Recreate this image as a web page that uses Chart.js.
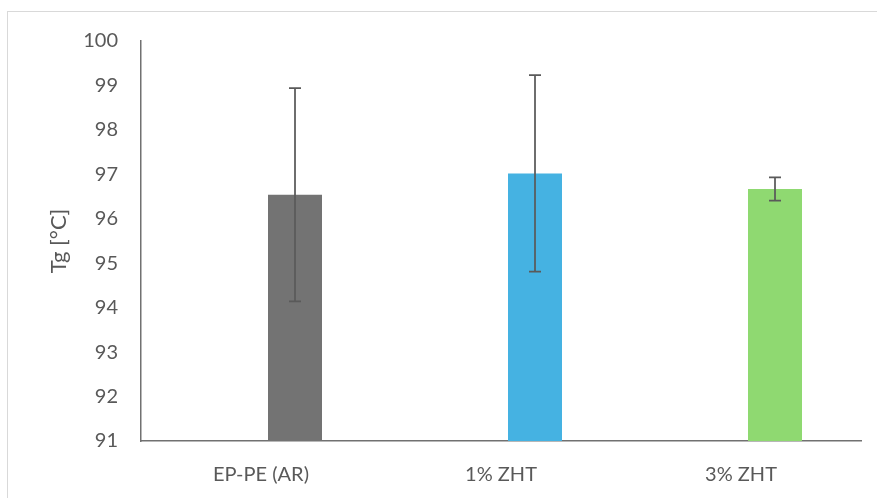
<!DOCTYPE html>
<html>
<head>
<meta charset="utf-8">
<script src="https://cdn.jsdelivr.net/npm/chart.js@4/dist/chart.umd.min.js"></script>
<style>
  html, body { margin: 0; padding: 0; background: #ffffff; }
  #wrap { position: relative; width: 877px; height: 498px; overflow: hidden; }
  #frame { position: absolute; left: 7px; top: 11px; width: 900px; height: 520px;
           border: 1px solid #d9d9d9; box-sizing: border-box; }
  #c { position: absolute; left: 0; top: 0; }
</style>
</head>
<body>
<div id="wrap">
  <div id="frame"></div>
  <canvas id="c" width="877" height="498"></canvas>
</div>
<script>
// Glass transition temperature per sample
const samples = ['EP-PE (AR)', '1% ZHT', '3% ZHT'];
const tgMean  = [96.54, 97.02, 96.67];
const tgError = [2.40, 2.21, 0.26];
const barColors = ['#737373', '#45b2e2', '#8fd971'];
const yTicks = [91, 92, 93, 94, 95, 96, 97, 98, 99, 100];

const FONT = 'Lato, "Open Sans", sans-serif';
const TEXT = '#595959';
const AXIS = '#717171';

// Symmetric error bars drawn on top of the Tg bars
const errorBars = {
  id: 'errorBars',
  afterDatasetsDraw(chart) {
    const meta = chart.getDatasetMeta(1);
    const y = chart.scales.y;
    const ctx = chart.ctx;
    ctx.save();
    ctx.strokeStyle = '#5a5a5a';
    ctx.lineWidth = 1.75;
    meta.data.forEach((bar, i) => {
      const top = y.getPixelForValue(tgMean[i] + tgError[i]);
      const bot = y.getPixelForValue(tgMean[i] - tgError[i]);
      const cap = 6;
      ctx.beginPath();
      ctx.moveTo(bar.x, top); ctx.lineTo(bar.x, bot);
      ctx.moveTo(bar.x - cap, top); ctx.lineTo(bar.x + cap, top);
      ctx.moveTo(bar.x - cap, bot); ctx.lineTo(bar.x + cap, bot);
      ctx.stroke();
    });
    ctx.restore();
  }
};

new Chart(document.getElementById('c'), {
  type: 'bar',
  data: {
    labels: samples,
    datasets: [
      { label: 'blank', data: samples.map(() => null) },
      { label: 'Tg', data: tgMean, backgroundColor: barColors, borderWidth: 0 }
    ]
  },
  options: {
    responsive: false,
    animation: false,
    devicePixelRatio: 1,
    categoryPercentage: 0.5667,
    barPercentage: 0.794,
    layout: { padding: { left: 40, top: 41, right: 16, bottom: 0 } },
    plugins: { legend: { display: false }, tooltip: { enabled: false } },
    scales: {
      x: {
        grid: { display: true, drawOnChartArea: false, drawTicks: false },
        border: { display: true, color: AXIS, width: 1.5 },
        ticks: { color: TEXT, font: { family: FONT, size: 20 }, padding: 22 },
        afterFit(scale) { scale.height = 57; }
      },
      y: {
        min: 91, max: 100,
        afterBuildTicks(scale) { scale.ticks = yTicks.map(v => ({ value: v })); },
        grid: { display: true, drawOnChartArea: false, drawTicks: false },
        border: { display: true, color: AXIS, width: 1.5 },
        ticks: { color: TEXT, font: { family: FONT, size: 20 }, padding: 23 },
        title: {
          display: true, text: 'Tg [°C]', color: TEXT,
          font: { family: FONT, size: 22 }, padding: { top: 6, bottom: 0 }
        },
        afterFit(scale) { scale.width = 101; }
      }
    }
  },
  plugins: [errorBars]
});
</script>
</body>
</html>
